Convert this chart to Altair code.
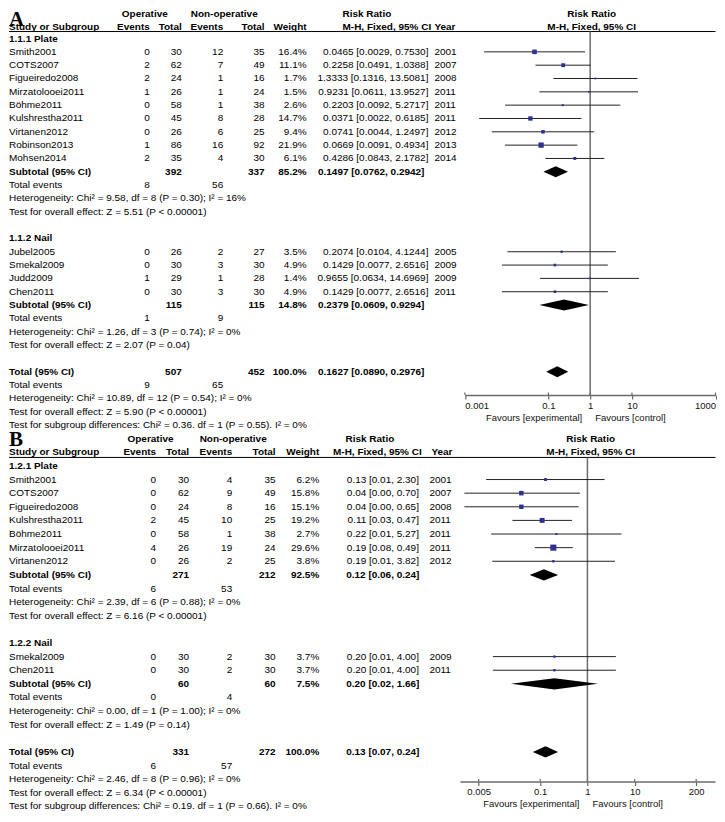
import altair as alt
import pandas as pd

FONT = "Liberation Sans"
SERIF = "Liberation Serif"

# ======================= Panel A data =======================
a1_names = ["Smith2001", "COTS2007", "Figueiredo2008", "Mirzatolooei2011", "Böhme2011",
            "Kulshrestha2011", "Virtanen2012", "Robinson2013", "Mohsen2014"]
a1_op_events = [0, 2, 2, 1, 0, 0, 0, 1, 2]
a1_op_total = [30, 62, 24, 26, 58, 45, 26, 86, 35]
a1_non_events = [12, 7, 1, 1, 1, 8, 6, 16, 4]
a1_non_total = [35, 49, 16, 24, 38, 28, 25, 92, 30]
a1_weight = [16.4, 11.1, 1.7, 1.5, 2.6, 14.7, 9.4, 21.9, 6.1]
a1_rr = [0.0465, 0.2258, 1.3333, 0.9231, 0.2203, 0.0371, 0.0741, 0.0669, 0.4286]
a1_lo = [0.0029, 0.0491, 0.1316, 0.0611, 0.0092, 0.0022, 0.0044, 0.0091, 0.0843]
a1_hi = [0.7530, 1.0388, 13.5081, 13.9527, 5.2717, 0.6185, 1.2497, 0.4934, 2.1782]
a1_year = [2001, 2007, 2008, 2011, 2011, 2011, 2012, 2013, 2014]

a2_names = ["Jubel2005", "Smekal2009", "Judd2009", "Chen2011"]
a2_op_events = [0, 0, 1, 0]
a2_op_total = [26, 30, 29, 30]
a2_non_events = [2, 3, 1, 3]
a2_non_total = [27, 30, 28, 30]
a2_weight = [3.5, 4.9, 1.4, 4.9]
a2_rr = [0.2074, 0.1429, 0.9655, 0.1429]
a2_lo = [0.0104, 0.0077, 0.0634, 0.0077]
a2_hi = [4.1244, 2.6516, 14.6969, 2.6516]
a2_year = [2005, 2009, 2009, 2011]

a_titles = ["1.1.1 Plate", "1.1.2 Nail"]
a_sub_op_total = [392, 115]
a_sub_non_total = [337, 115]
a_sub_weight = [85.2, 14.8]
a_sub_rr = [0.1497, 0.2379]
a_sub_lo = [0.0762, 0.0609]
a_sub_hi = [0.2942, 0.9294]
a_sub_op_events = [8, 1]
a_sub_non_events = [56, 9]
a_sub_het = ["Heterogeneity: Chi² = 9.58, df = 8 (P = 0.30); I² = 16%",
             "Heterogeneity: Chi² = 1.26, df = 3 (P = 0.74); I² = 0%"]
a_sub_test = ["Test for overall effect: Z = 5.51 (P < 0.00001)",
              "Test for overall effect: Z = 2.07 (P = 0.04)"]
a_tot = [507, 452, 100.0, 0.1627, 0.0890, 0.2976]
a_tot_events = [9, 65]
a_tot_het = "Heterogeneity: Chi² = 10.89, df = 12 (P = 0.54); I² = 0%"
a_tot_test = "Test for overall effect: Z = 5.90 (P < 0.00001)"
a_diff = "Test for subgroup differences: Chi² = 0.36. df = 1 (P = 0.55). I² = 0%"
a_ticks = [0.001, 0.1, 1, 10, 1000]
a_domain = [0.001, 1000]

# ======================= Panel B data =======================
b1_names = ["Smith2001", "COTS2007", "Figueiredo2008", "Kulshrestha2011", "Böhme2011",
            "Mirzatolooei2011", "Virtanen2012"]
b1_op_events = [0, 0, 0, 2, 0, 4, 0]
b1_op_total = [30, 62, 24, 45, 58, 26, 26]
b1_non_events = [4, 9, 8, 10, 1, 19, 2]
b1_non_total = [35, 49, 16, 25, 38, 24, 25]
b1_weight = [6.2, 15.8, 15.1, 19.2, 2.7, 29.6, 3.8]
b1_rr = [0.13, 0.04, 0.04, 0.11, 0.22, 0.19, 0.19]
b1_lo = [0.0072, 0.0025, 0.0025, 0.026, 0.0092, 0.077, 0.0097]
b1_hi = [2.30, 0.70, 0.65, 0.47, 5.27, 0.49, 3.82]
b1_year = [2001, 2007, 2008, 2011, 2011, 2011, 2012]

b2_names = ["Smekal2009", "Chen2011"]
b2_op_events = [0, 0]
b2_op_total = [30, 30]
b2_non_events = [2, 2]
b2_non_total = [30, 30]
b2_weight = [3.7, 3.7]
b2_rr = [0.20, 0.20]
b2_lo = [0.010, 0.010]
b2_hi = [4.00, 4.00]
b2_year = [2009, 2011]

b_titles = ["1.2.1 Plate", "1.2.2 Nail"]
b_sub_op_total = [271, 60]
b_sub_non_total = [212, 60]
b_sub_weight = [92.5, 7.5]
b_sub_rr = [0.12, 0.20]
b_sub_lo = [0.06, 0.024]
b_sub_hi = [0.24, 1.66]
b_sub_op_events = [6, 0]
b_sub_non_events = [53, 4]
b_sub_het = ["Heterogeneity: Chi² = 2.39, df = 6 (P = 0.88); I² = 0%",
             "Heterogeneity: Chi² = 0.00, df = 1 (P = 1.00); I² = 0%"]
b_sub_test = ["Test for overall effect: Z = 6.16 (P < 0.00001)",
              "Test for overall effect: Z = 1.49 (P = 0.14)"]
b_tot = [331, 272, 100.0, 0.13, 0.07, 0.24]
b_tot_events = [6, 57]
b_tot_het = "Heterogeneity: Chi² = 2.46, df = 8 (P = 0.96); I² = 0%"
b_tot_test = "Test for overall effect: Z = 6.34 (P < 0.00001)"
b_diff = "Test for subgroup differences: Chi² = 0.19. df = 1 (P = 0.66). I² = 0%"
b_ticks = [0.005, 0.1, 1, 10, 200]
b_domain = [0.002, 500]

SQUARE = "#2e3192"
LINEGRAY = "#6b6b6b"
RIGHT_EDGE = 707.5


def fmt4(e, l, h):
    return f"{e:.4f} [{l:.4f}, {h:.4f}]"


def fmt2(e, l, h):
    return f"{e:.2f} [{l:.2f}, {h:.2f}]"


def build(groups, total, fmt, hdr_rows):
    items = []
    studies = []
    diamonds = []
    r1, r2 = hdr_rows
    items += [
        (r1, "op", "Operative", True), (r1, "nop", "Non-operative", True),
        (r1, "rrh1", "Risk Ratio", True), (r1, "fp", "Risk Ratio", True),
        (r2, "label", "Study or Subgroup", True), (r2, "oe", "Events", True),
        (r2, "ot", "Total", True), (r2, "ne", "Events", True), (r2, "nt", "Total", True),
        (r2, "w", "Weight", True), (r2, "rrh2", "M-H, Fixed, 95% CI", True),
        (r2, "yearh", "Year", True), (r2, "fp", "M-H, Fixed, 95% CI", True),
    ]
    r = 0
    did = 0
    for g in groups:
        items.append((r, "label", g["title"], True))
        r += 1
        for i, name in enumerate(g["names"]):
            items += [
                (r, "label", name, False),
                (r, "oe", str(g["oe"][i]), False),
                (r, "ot", str(g["ot"][i]), False),
                (r, "ne", str(g["ne"][i]), False),
                (r, "nt", str(g["nt"][i]), False),
                (r, "w", f"{g['w'][i]:.1f}%", False),
                (r, "rr", fmt(g["rr"][i], g["lo"][i], g["hi"][i]), False),
                (r, "year", str(g["year"][i]), False),
            ]
            studies.append(dict(row=r, rr=g["rr"][i], lo=g["lo"][i], hi=g["hi"][i], w=g["w"][i]))
            r += 1
        s = g["sub"]
        items += [
            (r, "label", "Subtotal (95% CI)", True),
            (r, "ot", str(s[0]), True), (r, "nt", str(s[1]), True),
            (r, "w", f"{s[2]:.1f}%", True), (r, "rrb", fmt(s[3], s[4], s[5]), True),
        ]
        diamonds.append((did, r, s[3], s[4], s[5]))
        did += 1
        r += 1
        items += [(r, "label", "Total events", False), (r, "oe", str(g["ev"][0]), False),
                  (r, "ne", str(g["ev"][1]), False)]
        r += 1
        items.append((r, "label", g["het"], False))
        r += 1
        items.append((r, "label", g["test"], False))
        r += 2
    t = total["tot"]
    items += [
        (r, "label", "Total (95% CI)", True),
        (r, "ot", str(t[0]), True), (r, "nt", str(t[1]), True),
        (r, "w", f"{t[2]:.1f}%", True), (r, "rrb", fmt(t[3], t[4], t[5]), True),
    ]
    diamonds.append((did, r, t[3], t[4], t[5]))
    r += 1
    items += [(r, "label", "Total events", False), (r, "oe", str(total["ev"][0]), False),
              (r, "ne", str(total["ev"][1]), False)]
    r += 1
    items.append((r, "label", total["het"], False))
    r += 1
    items.append((r, "label", total["test"], False))
    r += 1
    items.append((r, "label", total["diff"], False))
    return items, studies, diamonds


def panel(letter, groups, total, fmt, cols, H, step, top_off, hdr_rows, underline_row,
          xdomain, xrange, ticks, letter_y):
    W = 709
    rt = -top_off / step
    rb = (H - top_off) / step
    yscale = alt.Scale(domain=[rt, rb], range=[0, H], nice=False, zero=False)
    yenc = alt.Y("row:Q", scale=yscale, axis=None)
    xscale = alt.Scale(type="log", domain=xdomain, range=xrange, nice=False)
    xaxis = alt.Axis(values=ticks, format="~g", title=None, grid=False, labelFlush=True,
                     domainColor=LINEGRAY, domainWidth=1.5, tickColor=LINEGRAY, tickWidth=1.2,
                     tickSize=4, labelPadding=1, labelFont=FONT, labelFontSize=9.5,
                     labelColor="#111111")

    def X(f):
        return alt.X(f, type="quantitative", scale=xscale, axis=xaxis)

    items, studies, diamonds = build(groups, total, fmt, hdr_rows)
    tdf = pd.DataFrame(items, columns=["row", "col", "text", "bold"])
    layers = []

    # header underline
    ul = pd.DataFrame({"row": [underline_row]})
    layers.append(alt.Chart(ul).mark_rule(color="black", strokeWidth=1).encode(
        x=alt.value(0), x2=alt.value(RIGHT_EDGE), y=yenc))

    # line of no effect
    vl = pd.DataFrame({"x": [1], "row": [underline_row], "row2": [rb]})
    layers.append(alt.Chart(vl).mark_rule(color=LINEGRAY, strokeWidth=1.5).encode(
        x=X("x"), y=yenc, y2=alt.Y2("row2")))

    # upper part of axis ticks
    tk = pd.DataFrame({"t": ticks})
    layers.append(alt.Chart(tk).mark_rule(color=LINEGRAY, strokeWidth=1.2).encode(
        x=X("t"), y=alt.value(H - 2.5), y2=alt.value(H)))

    sdf = pd.DataFrame(studies)
    layers.append(alt.Chart(sdf).mark_rule(color="#222222", strokeWidth=1).encode(
        x=X("lo"), x2="hi", y=yenc))
    layers.append(alt.Chart(sdf).mark_square(color=SQUARE, opacity=1).encode(
        x=X("rr"), y=yenc,
        size=alt.Size("w:Q", scale=alt.Scale(domain=[0, 30], range=[1, 38]), legend=None)))

    h = 0.41
    drows = []
    for did, r, e, l, hi in diamonds:
        drows += [dict(id=did, x=l, y1=r, y2=r), dict(id=did, x=e, y1=r - h, y2=r + h),
                  dict(id=did, x=hi, y1=r, y2=r)]
    ddf = pd.DataFrame(drows)
    layers.append(alt.Chart(ddf).mark_area(color="black", orient="vertical", opacity=1).encode(
        x=X("x"), y=alt.Y("y1:Q", scale=yscale, axis=None, stack=False), y2="y2",
        detail="id:N"))

    # text columns
    for (col, bold), sub in tdf.groupby(["col", "bold"], sort=False):
        xpos, align = cols[col]
        layers.append(alt.Chart(sub).mark_text(
            align=align, baseline="middle", font=FONT, fontSize=10,
            fontWeight="bold" if bold else "normal", color="black").encode(
            x=alt.value(xpos), y=yenc, text="text:N"))

    fav = pd.DataFrame({"x": [1], "a": ["Favours [experimental]"], "b": ["Favours [control]"]})
    layers.append(alt.Chart(fav).mark_text(align="right", dx=-8, baseline="middle", font=FONT,
                                           fontSize=9.5, color="#111111").encode(
        x=X("x"), y=alt.value(H + 23), text="a:N"))
    layers.append(alt.Chart(fav).mark_text(align="left", dx=5, baseline="middle", font=FONT,
                                           fontSize=9.5, color="#111111").encode(
        x=X("x"), y=alt.value(H + 23), text="b:N"))

    let = pd.DataFrame({"t": [letter]})
    layers.append(alt.Chart(let).mark_text(align="left", baseline="alphabetic", font=SERIF,
                                           fontSize=21, fontWeight="bold", color="black").encode(
        x=alt.value(0), y=alt.value(letter_y), text="t:N"))

    return alt.layer(*layers).properties(width=W, height=H)


def group(title, names, oe, ot, ne, nt, w, rr, lo, hi, year, sub, ev, het, test):
    return dict(title=title, names=names, oe=oe, ot=ot, ne=ne, nt=nt, w=w, rr=rr, lo=lo,
                hi=hi, year=year, sub=sub, ev=ev, het=het, test=test)


a_groups = [
    group(a_titles[0], a1_names, a1_op_events, a1_op_total, a1_non_events, a1_non_total,
          a1_weight, a1_rr, a1_lo, a1_hi, a1_year,
          [a_sub_op_total[0], a_sub_non_total[0], a_sub_weight[0], a_sub_rr[0], a_sub_lo[0],
           a_sub_hi[0]], [a_sub_op_events[0], a_sub_non_events[0]], a_sub_het[0], a_sub_test[0]),
    group(a_titles[1], a2_names, a2_op_events, a2_op_total, a2_non_events, a2_non_total,
          a2_weight, a2_rr, a2_lo, a2_hi, a2_year,
          [a_sub_op_total[1], a_sub_non_total[1], a_sub_weight[1], a_sub_rr[1], a_sub_lo[1],
           a_sub_hi[1]], [a_sub_op_events[1], a_sub_non_events[1]], a_sub_het[1], a_sub_test[1]),
]
a_total = dict(tot=a_tot, ev=a_tot_events, het=a_tot_het, test=a_tot_test, diff=a_diff)

b_groups = [
    group(b_titles[0], b1_names, b1_op_events, b1_op_total, b1_non_events, b1_non_total,
          b1_weight, b1_rr, b1_lo, b1_hi, b1_year,
          [b_sub_op_total[0], b_sub_non_total[0], b_sub_weight[0], b_sub_rr[0], b_sub_lo[0],
           b_sub_hi[0]], [b_sub_op_events[0], b_sub_non_events[0]], b_sub_het[0], b_sub_test[0]),
    group(b_titles[1], b2_names, b2_op_events, b2_op_total, b2_non_events, b2_non_total,
          b2_weight, b2_rr, b2_lo, b2_hi, b2_year,
          [b_sub_op_total[1], b_sub_non_total[1], b_sub_weight[1], b_sub_rr[1], b_sub_lo[1],
           b_sub_hi[1]], [b_sub_op_events[1], b_sub_non_events[1]], b_sub_het[1], b_sub_test[1]),
]
b_total = dict(tot=b_tot, ev=b_tot_events, het=b_tot_het, test=b_tot_test, diff=b_diff)

a_cols = {
    "label": (0, "left"), "oe": (141, "right"), "ot": (173, "right"), "ne": (214.5, "right"),
    "nt": (256, "right"), "w": (298, "right"), "rr": (420, "right"), "rrb": (416, "right"),
    "year": (426, "left"), "yearh": (426, "left"), "rrh1": (334, "left"),
    "rrh2": (334, "left"), "op": (136, "center"), "nop": (215.5, "center"),
    "fp": (583.5, "center"),
}
b_cols = {
    "label": (0, "left"), "oe": (147.3, "right"), "ot": (180.3, "right"), "ne": (223.5, "right"),
    "nt": (267, "right"), "w": (310.7, "right"), "rr": (410.5, "right"), "rrb": (411, "right"),
    "year": (421, "left"), "yearh": (423, "left"), "rrh1": (337, "left"),
    "rrh2": (324.5, "left"), "op": (141.7, "center"), "nop": (224.5, "center"),
    "fp": (582.5, "center"),
}

A_H, A_STEP, A_TOP = 387, 13.345, 30
B_H, B_STEP, B_TOP = 352, 13.64, 36

panel_a = panel("A", a_groups, a_total, fmt4, a_cols, H=A_H, step=A_STEP, top_off=A_TOP,
                hdr_rows=(-1.873, -0.899), underline_row=-0.525, xdomain=a_domain,
                xrange=[456.5, 707.5], ticks=a_ticks, letter_y=17)
panel_b = panel("B", b_groups, b_total, fmt2, b_cols, H=B_H, step=B_STEP, top_off=B_TOP,
                hdr_rows=(-1.98, -1.026), underline_row=-0.623, xdomain=b_domain,
                xrange=[451.5, 707], ticks=b_ticks, letter_y=16)

chart = alt.vconcat(panel_a, panel_b, spacing=35, bounds="flush").properties(
    padding={"left": 0, "top": 0, "right": 0, "bottom": 0}
).configure_view(stroke=None)

chart.save("out.html", embed_options={"renderer": "svg", "actions": False})
